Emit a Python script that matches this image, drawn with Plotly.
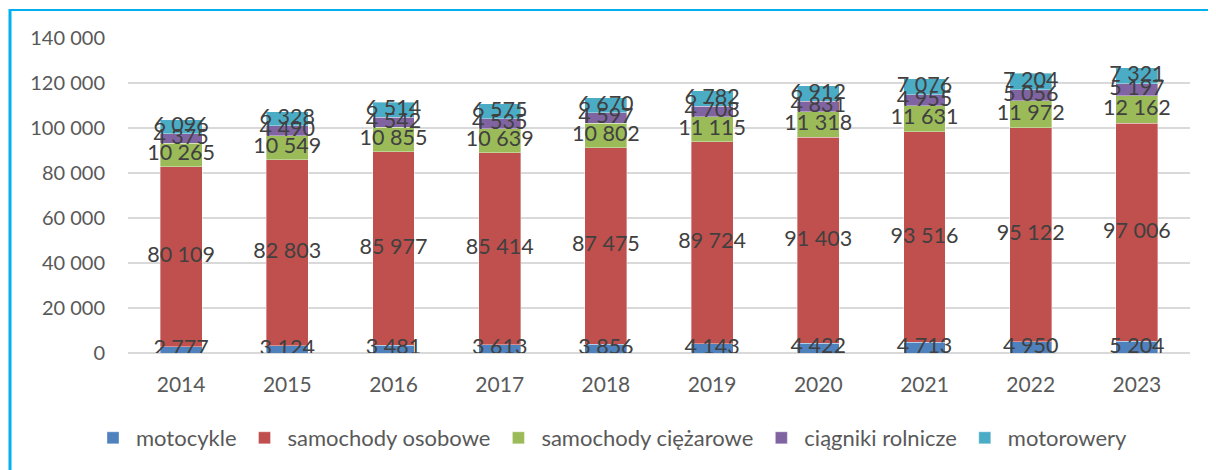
import plotly.graph_objects as go

years = ["2014", "2015", "2016", "2017", "2018", "2019", "2020", "2021", "2022", "2023"]
motocykle = [2777, 3124, 3481, 3613, 3856, 4143, 4422, 4713, 4950, 5204]
samochody_osobowe = [80109, 82803, 85977, 85414, 87475, 89724, 91403, 93516, 95122, 97006]
samochody_ciezarowe = [10265, 10549, 10855, 10639, 10802, 11115, 11318, 11631, 11972, 12162]
ciagniki_rolnicze = [4375, 4490, 4542, 4535, 4597, 4708, 4831, 4955, 5056, 5197]
motorowery = [6096, 6328, 6514, 6575, 6670, 6782, 6912, 7076, 7204, 7321]

series = [
    ("motocykle", motocykle, "#4F81BD"),
    ("samochody osobowe", samochody_osobowe, "#C0504D"),
    ("samochody ciężarowe", samochody_ciezarowe, "#9BBB59"),
    ("ciągniki rolnicze", ciagniki_rolnicze, "#8064A2"),
    ("motorowery", motorowery, "#4BACC6"),
]

FONT = "Lato"
# page body has an 8px margin, so the figure is drawn 8px smaller and offset
W, H = 1208, 462
L, R, T, B = 120, 26, 30, 116
pw = W - L - R
ph = H - T - B

def fmt(v):
    return f"{v:,}".replace(",", " ")

fig = go.Figure()
for name, vals, col in series:
    fig.add_trace(go.Bar(
        x=years, y=vals, name=name,
        marker=dict(color=col, line=dict(width=0.6, color="rgba(255,255,255,0.6)")),
        hoverinfo="skip",
    ))

# centred data labels
base = [0] * len(years)
for name, vals, col in series:
    mids = [b + v / 2 for b, v in zip(base, vals)]
    fig.add_trace(go.Scatter(
        x=years, y=mids, mode="text",
        text=[fmt(v) for v in vals],
        textfont=dict(family=FONT, size=21.5, color="#404040"),
        showlegend=False, hoverinfo="skip",
    ))
    base = [b + v for b, v in zip(base, vals)]

def px_x(p):
    return (p - L) / pw

def px_y(p):
    return (H - B - p) / ph

fig.update_layout(
    width=W, height=H,
    barmode="stack", bargap=0.605,
    plot_bgcolor="white", paper_bgcolor="white",
    margin=dict(l=L, r=R, t=T, b=B, pad=0),
    separators=", ",
    font=dict(family=FONT, size=20, color="#595959"),
    xaxis=dict(
        type="category", showgrid=False, showline=False, ticks="",
        tickfont=dict(family=FONT, size=21, color="#595959"),
        ticklabelstandoff=17,
    ),
    yaxis=dict(
        range=[0, 140000], dtick=20000, tickformat=",d",
        showgrid=True, gridcolor="#D9D9D9", gridwidth=1.5,
        zeroline=True, zerolinecolor="#D9D9D9", zerolinewidth=1.5,
        showline=False, ticks="",
        tickfont=dict(family=FONT, size=20, color="#595959"),
        ticklabelstandoff=22,
    ),
    legend=dict(
        orientation="h", x=px_x(82), xanchor="left",
        y=px_y(430), yanchor="middle",
        font=dict(family=FONT, size=22, color="#595959"),
        itemwidth=36, traceorder="normal",
    ),
    shapes=[
        dict(type="line", xref="paper", yref="paper",
             x0=px_x(2), x1=px_x(2), y0=px_y(1), y1=px_y(H + 5),
             line=dict(color="#00B0F0", width=3)),
        dict(type="line", xref="paper", yref="paper",
             x0=px_x(1), x1=px_x(W + 5), y0=px_y(2), y1=px_y(2),
             line=dict(color="#00B0F0", width=2)),
    ],
)

fig.write_html("out.html")
